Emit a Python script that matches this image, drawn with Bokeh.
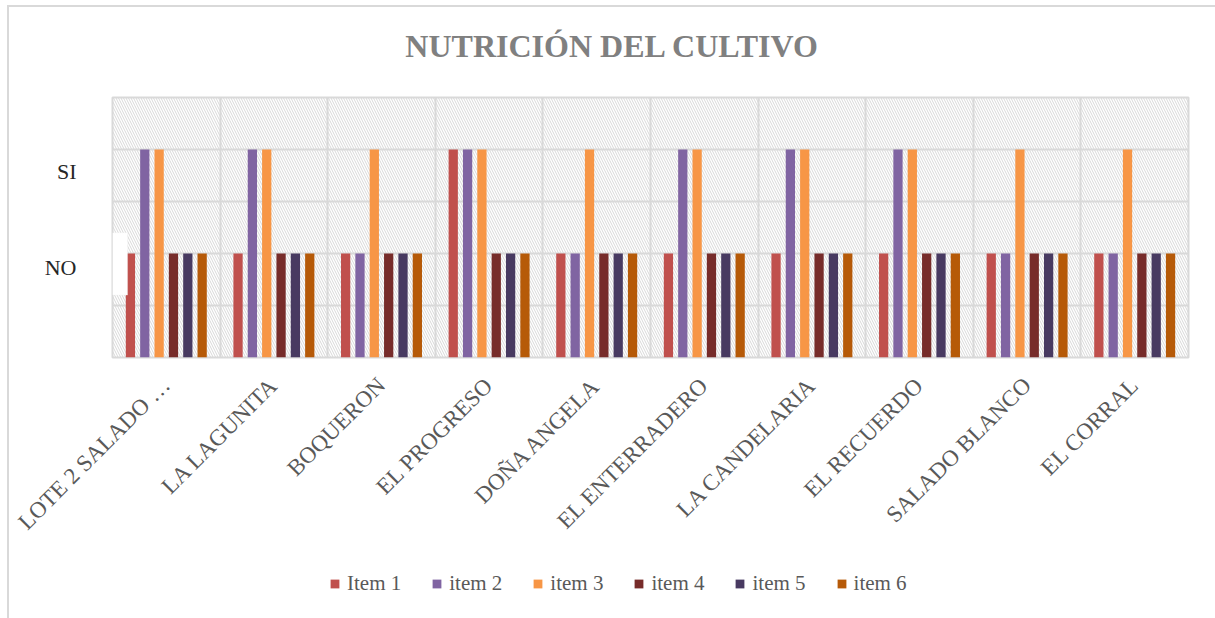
from math import pi
from bokeh.plotting import figure
from bokeh.layouts import column
from bokeh.models import (Range1d, FixedTicker, Legend, LegendItem, Label,
                          BoxAnnotation, ColumnDataSource)
from bokeh.transform import dodge
from bokeh.embed import file_html
from bokeh.resources import INLINE

# ---------------- data ----------------
categories = ["LOTE 2 SALADO …", "LA LAGUNITA", "BOQUERON", "EL PROGRESO",
              "DOÑA ANGELA", "EL ENTERRADERO", "LA CANDELARIA", "EL RECUERDO",
              "SALADO BLANCO", "EL CORRAL"]
item_1 = [1, 1, 1, 2, 1, 1, 1, 1, 1, 1]
item_2 = [2, 2, 1, 2, 1, 2, 2, 2, 1, 1]
item_3 = [2, 2, 2, 2, 2, 2, 2, 2, 2, 2]
item_4 = [1, 1, 1, 1, 1, 1, 1, 1, 1, 1]
item_5 = [1, 1, 1, 1, 1, 1, 1, 1, 1, 1]
item_6 = [1, 1, 1, 1, 1, 1, 1, 1, 1, 1]
series_names = ["Item 1", "item 2", "item 3", "item 4", "item 5", "item 6"]
series_values = [item_1, item_2, item_3, item_4, item_5, item_6]
colors = ["#C0504D", "#8064A2", "#F79646", "#772C2A", "#483A61", "#B65A08"]
y_text_labels = ["NO", "SI"]
y_text_positions = [0.865, 1.79]
title_text = "NUTRICIÓN DEL CULTIVO"

FONT = "Liberation Serif"
GRID = "#d9d9d9"
W = 1215
FRAME_LEFT = 112  # frames of the stacked strips are aligned with the chart's

n = len(categories)
centers = [i + 0.5 for i in range(n)]
src = ColumnDataSource(dict(x=centers, **{f"s{j}": v for j, v in enumerate(series_values)}))


def bare(h, yr=(0, 1)):
    f = figure(width=W, height=h, output_backend="svg", toolbar_location=None,
               x_range=Range1d(0, n), y_range=Range1d(*yr), min_border=0,
               x_axis_location=None, y_axis_location=None)
    f.grid.visible = False
    f.outline_line_color = None
    f.background_fill_alpha = 0
    f.border_fill_alpha = 0
    return f


# ---------------- title strip ----------------
t = bare(80)
t.add_layout(Label(x=612 - FRAME_LEFT, y=23 + 12, x_units="screen", y_units="screen",
                   text=title_text, text_align="center", text_baseline="alphabetic",
                   text_font=FONT, text_font_size="32px", text_font_style="bold",
                   text_color="#808080"))

# ---------------- main chart ----------------
p = figure(width=W, height=480, output_backend="svg", toolbar_location=None,
           x_range=Range1d(0, n), y_range=Range1d(0, 2.5),
           min_border_left=FRAME_LEFT, min_border_right=27, min_border_top=17,
           min_border_bottom=203)
p.background_fill_color = "white"
p.border_fill_alpha = 0
p.outline_line_color = GRID
p.outline_line_width = 2

# hatch over plot area
p.add_layout(BoxAnnotation(fill_alpha=0, line_alpha=0, hatch_pattern="\\",
                           hatch_color="#d8d8d8", hatch_scale=5, hatch_weight=1,
                           level="underlay"))

# grids
p.ygrid.ticker = FixedTicker(ticks=[0, 0.5, 1, 1.5, 2, 2.5])
p.ygrid.grid_line_color = GRID
p.ygrid.grid_line_width = 2
p.xgrid.ticker = FixedTicker(ticks=list(range(n + 1)))
p.xgrid.grid_line_color = GRID
p.xgrid.grid_line_width = 2

# y axis: SI / NO text labels
p.yaxis.ticker = FixedTicker(ticks=y_text_positions)
p.yaxis.major_label_overrides = {v: s for v, s in zip(y_text_positions, y_text_labels)}
p.yaxis.major_label_text_font = FONT
p.yaxis.major_label_text_font_size = "22px"
p.yaxis.major_label_text_color = "#262626"
p.yaxis.major_label_standoff = 30
p.yaxis.axis_line_color = None
p.yaxis.major_tick_line_color = None
p.yaxis.minor_tick_line_color = None

# x axis
p.xaxis.ticker = FixedTicker(ticks=centers)
p.xaxis.major_label_overrides = {c: lab for c, lab in zip(centers, categories)}
p.xaxis.major_label_orientation = pi / 4
p.xaxis.major_label_text_font = FONT
p.xaxis.major_label_text_font_size = "23px"
p.xaxis.major_label_text_color = "#595959"
p.xaxis.major_label_standoff = 18
p.xaxis.axis_line_color = None
p.xaxis.major_tick_line_color = None
p.xaxis.minor_tick_line_color = None

step = 0.1333
bw = 0.086
for j, name in enumerate(series_names):
    off = (j - 2.5) * step
    p.vbar(x=dodge("x", off), top=f"s{j}", width=bw, source=src,
           fill_color=colors[j], line_color=None)

# white text box of the "NO" label overlapping the plot edge
p.add_layout(BoxAnnotation(right=0.14, bottom=0.6, top=1.2, fill_color="white",
                           fill_alpha=1, line_color="#f0f0f0", line_width=1))

# ---------------- legend strip ----------------
# same bars, below this strip's visible y range: only the legend shows
lg = bare(58, yr=(5, 6))
items = []
for j, name in enumerate(series_names):
    r = lg.vbar(x="x", top=f"s{j}", width=bw, source=src,
                fill_color=colors[j], line_color=None)
    items.append(LegendItem(label=name, renderers=[r]))
legend = Legend(items=items, orientation="horizontal", location=(329 - FRAME_LEFT, 22),
                glyph_width=11, glyph_height=11, label_text_font=FONT,
                label_text_font_size="21px", label_text_color="#595959",
                spacing=30, label_standoff=7, padding=0, margin=0,
                border_line_color=None, background_fill_alpha=0)
lg.add_layout(legend, "center")

layout = column(t, p, lg, spacing=0)
layout.styles = {
    "background": "linear-gradient(#d9d9d9, #d9d9d9) 7px 5px / 2px calc(100% - 5px) no-repeat, "
                  "linear-gradient(#d9d9d9, #d9d9d9) 7px 5px / calc(100% - 7px) 2px no-repeat, #ffffff"
}

open("out.html", "w").write(file_html(layout, INLINE))
